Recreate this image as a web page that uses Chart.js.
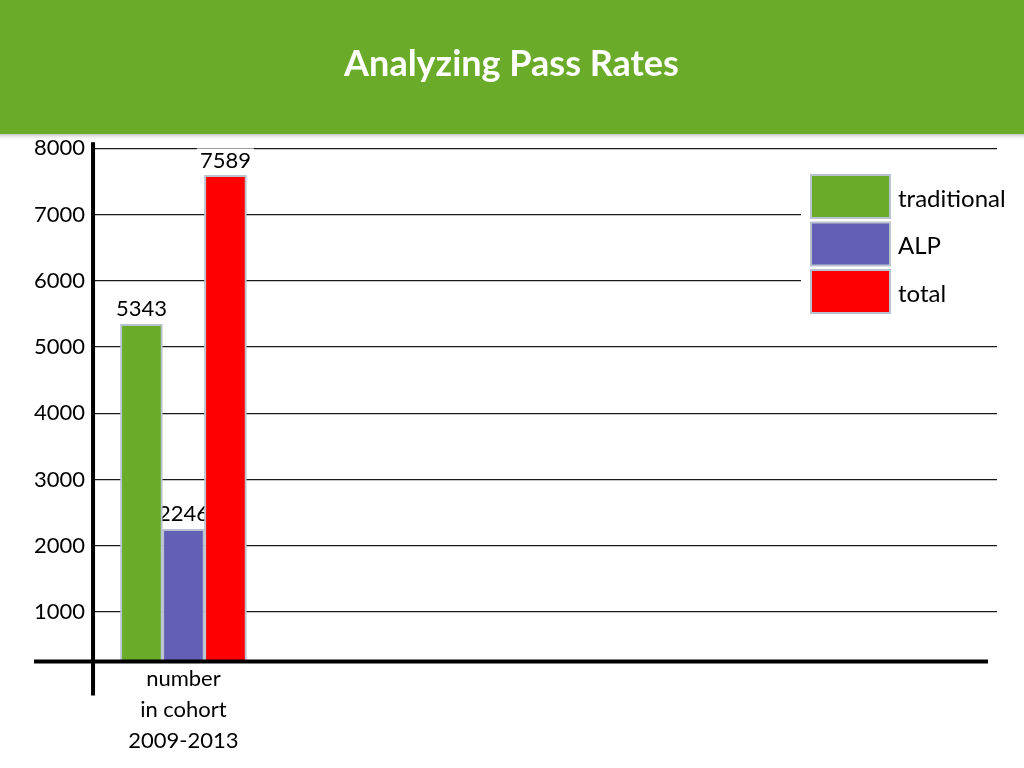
<!DOCTYPE html>
<html>
<head>
<meta charset="utf-8">
<script src="https://cdn.jsdelivr.net/npm/chart.js@4"></script>
<style>
  html, body { margin: 0; padding: 0; background: #ffffff; }
  #wrap { position: relative; width: 1024px; height: 768px; }
</style>
</head>
<body>
<div id="wrap"><canvas id="c" width="1024" height="768"></canvas></div>
<script>
// ---- data ----
const titleText = 'Analyzing Pass Rates';
const categories = [['number', 'in cohort', '2009-2013']];
const seriesNames = ['traditional', 'ALP', 'total'];
const traditionalValues = [5343];
const alpValues = [2246];
const totalValues = [7589];
const yTickValues = [1000, 2000, 3000, 4000, 5000, 6000, 7000, 8000];

// ---- styles ----
const seriesColors = ['#6aab29', '#625fb4', '#ff0000'];
const FONT = 'Lato, "Open Sans", "Liberation Sans", sans-serif';

const seriesValues = [traditionalValues, alpValues, totalValues];
const datasets = seriesNames.map((name, s) => ({
  label: name,
  data: categories.map((c, i) => ({ x: i, y: seriesValues[s][i] })),
  backgroundColor: seriesColors[s],
  borderColor: '#b9c3cf',
  borderWidth: 2,
  barThickness: 42
}));

const bannerPlugin = {
  id: 'banner',
  beforeDraw(chart) {
    const ctx = chart.ctx;
    ctx.save();
    ctx.fillStyle = '#ffffff';
    ctx.fillRect(0, 0, chart.width, chart.height);
    const g = ctx.createLinearGradient(0, 133, 0, 141);
    g.addColorStop(0, 'rgba(120,120,120,0.55)');
    g.addColorStop(1, 'rgba(255,255,255,0)');
    ctx.fillStyle = g;
    ctx.fillRect(0, 133, chart.width, 8);
    ctx.fillStyle = '#6aab29';
    ctx.fillRect(0, 0, chart.width, 134);
    ctx.restore();
  }
};

const valueLabelPlugin = {
  id: 'valueLabels',
  beforeDatasetsDraw(chart) {
    const ctx = chart.ctx;
    ctx.save();
    ctx.font = '22px ' + FONT;
    ctx.textAlign = 'center';
    ctx.textBaseline = 'middle';
    chart.data.datasets.forEach((ds, di) => {
      const meta = chart.getDatasetMeta(di);
      meta.data.forEach((bar, i) => {
        const txt = String(ds.data[i].y);
        const w = ctx.measureText(txt).width;
        const cy = bar.y - 15;
        ctx.fillStyle = '#ffffff';
        ctx.fillRect(bar.x - w / 2 - 3, cy - 12, w + 6, 24);
        ctx.fillStyle = '#000000';
        ctx.fillText(txt, bar.x, cy);
      });
    });
    ctx.restore();
  }
};

const axesPlugin = {
  id: 'axisLines',
  afterDatasetsDraw(chart) {
    const { ctx, chartArea } = chart;
    ctx.save();
    ctx.strokeStyle = '#000000';
    ctx.lineWidth = 4;
    ctx.beginPath();
    ctx.moveTo(chartArea.left, chartArea.top - 6);
    ctx.lineTo(chartArea.left, chartArea.bottom + 34);
    ctx.moveTo(34, chartArea.bottom);
    ctx.lineTo(988, chartArea.bottom);
    ctx.stroke();
    ctx.restore();
  }
};

const legendPlugin = {
  id: 'boxLegend',
  afterDraw(chart) {
    const ctx = chart.ctx;
    ctx.save();
    ctx.fillStyle = '#ffffff';
    ctx.fillRect(801, 166, 223, 160);
    ctx.font = '24px ' + FONT;
    ctx.textAlign = 'left';
    ctx.textBaseline = 'middle';
    chart.data.datasets.forEach((ds, i) => {
      const top = 175 + i * 47.5;
      ctx.fillStyle = ds.backgroundColor;
      ctx.fillRect(811, top, 79, 43);
      ctx.strokeStyle = '#b9c3cf';
      ctx.lineWidth = 2;
      ctx.strokeRect(811, top, 79, 43);
      ctx.fillStyle = '#000000';
      ctx.fillText(ds.label, 898, top + 24);
    });
    ctx.restore();
  }
};

new Chart(document.getElementById('c'), {
  type: 'bar',
  data: { datasets },
  plugins: [bannerPlugin, valueLabelPlugin, axesPlugin, legendPlugin],
  options: {
    responsive: false,
    animation: false,
    layout: { padding: { left: 26, right: 27, top: 0, bottom: 10 } },
    plugins: {
      legend: { display: false },
      tooltip: { enabled: false },
      title: {
        display: true,
        text: titleText,
        color: '#ffffff',
        font: { family: FONT, size: 36, weight: 'bold', lineHeight: 1.2 },
        padding: { top: 43, bottom: 62 }
      }
    },
    scales: {
      x: {
        type: 'linear',
        offset: false,
        min: -0.5,
        max: 4.5,
        grid: { display: false, offset: false, drawTicks: false },
        border: { display: false },
        afterBuildTicks: (scale) => { scale.ticks = categories.map((c, i) => ({ value: i })); },
        afterFit: (scale) => { scale.paddingLeft = 0; scale.paddingRight = 0; },
        ticks: {
          autoSkip: false,
          maxRotation: 0,
          padding: 2,
          color: '#000000',
          font: { family: FONT, size: 22, lineHeight: 1.4 },
          callback: (v) => categories[v] !== undefined ? categories[v] : ''
        }
      },
      y: {
        min: 250,
        max: 8000,
        afterBuildTicks: (scale) => { scale.ticks = yTickValues.map(v => ({ value: v })); },
        grid: { color: '#1a1a1a', lineWidth: 1.3, drawTicks: false },
        border: { display: false },
        ticks: {
          padding: 8,
          color: '#000000',
          font: { family: FONT, size: 22 },
          callback: (v) => String(v)
        }
      }
    }
  }
});
</script>
</body>
</html>
